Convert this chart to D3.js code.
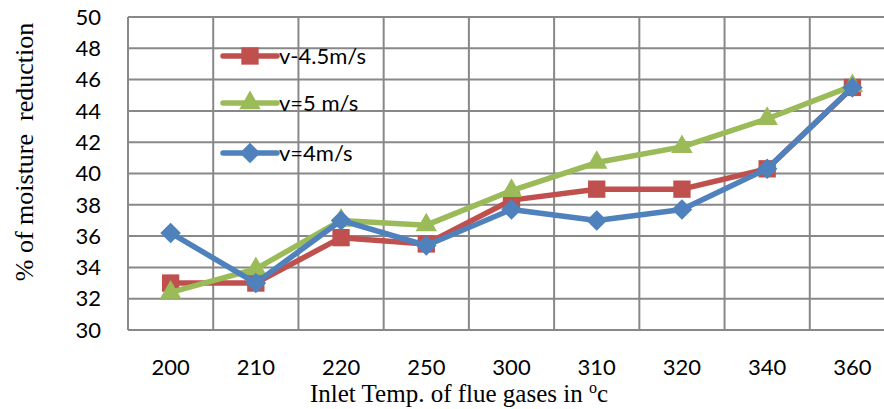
<!DOCTYPE html>
<html>
<head>
<meta charset="utf-8">
<script src="https://d3js.org/d3.v7.min.js"></script>
<style>
  body { margin: 0; background: #fff; }
  .tick-label { font-family: Lato, "Open Sans", sans-serif; font-size: 22px; fill: #000; }
  .legend-label { font-family: Lato, "Open Sans", sans-serif; font-size: 22px; fill: #000; }
  .title { font-family: "Liberation Serif", "Times New Roman", serif; font-size: 26px; fill: #000; }
</style>
</head>
<body>
<script>
// categories on x axis (inlet temperature)
var temps = ["200", "210", "220", "250", "300", "310", "320", "340", "360"];
// % moisture reduction per velocity
var v45 = [33, 33, 35.9, 35.5, 38.3, 39, 39, 40.3, 45.5];
var v5 = [32.4, 33.9, 37, 36.7, 38.9, 40.7, 41.7, 43.5, 45.6];
var v4 = [36.2, 33, 37, 35.4, 37.7, 37, 37.7, 40.3, 45.5];
var yTicks = [30, 32, 34, 36, 38, 40, 42, 44, 46, 48, 50];

var series = [
  { name: "v-4.5m/s", values: v45, color: "#C0504D", marker: "square" },
  { name: "v=5 m/s", values: v5, color: "#9BBB59", marker: "triangle" },
  { name: "v=4m/s", values: v4, color: "#4F81BD", marker: "diamond" }
];

// plot area (right edge runs past the window, as in the original crop)
var w = 884, h = 409;
var padL = 128, padT = 17, padR = 895, padB = 330;

var svg = d3.select("body").append("svg")
  .attr("width", w).attr("height", h);

var x = d3.scaleBand().domain(temps).range([padL, padR]);
var y = d3.scaleLinear().domain([30, 50]).range([padB, padT]);

// grid
var grid = svg.append("g").attr("stroke", "#888").attr("stroke-width", 2);
grid.selectAll(".hl").data(yTicks).enter().append("line")
  .attr("x1", padL).attr("x2", w)
  .attr("y1", function(d) { return y(d); })
  .attr("y2", function(d) { return y(d); });
grid.selectAll(".vl").data(temps).enter().append("line")
  .attr("x1", function(d) { return x(d); })
  .attr("x2", function(d) { return x(d); })
  .attr("y1", padT).attr("y2", padB);

// y tick labels
svg.selectAll(".yl").data(yTicks).enter().append("text")
  .attr("class", "tick-label")
  .attr("x", 101)
  .attr("y", function(d) { return y(d); })
  .attr("dy", "0.35em")
  .attr("text-anchor", "end")
  .text(function(d) { return d; });

// x tick labels
svg.selectAll(".xl").data(temps).enter().append("text")
  .attr("class", "tick-label")
  .attr("x", function(d) { return x(d) + x.bandwidth() / 2; })
  .attr("y", 375)
  .attr("text-anchor", "middle")
  .text(function(d) { return d; });

// axis titles
var xt = svg.append("text").attr("class", "title")
  .attr("x", 459).attr("y", 402).attr("text-anchor", "middle")
  .style("font-size", "25px");
xt.append("tspan").text("Inlet Temp. of flue gases in ");
xt.append("tspan").attr("font-size", "16px").attr("dy", "-9").text("o");
xt.append("tspan").attr("dy", "9").text("c");

svg.append("text").attr("class", "title")
  .attr("transform", "translate(33,152) rotate(-90)")
  .attr("text-anchor", "middle")
  .style("white-space", "pre")
  .text("% of moisture  reduction");

function symbolFor(m) {
  if (m === "square") return d3.symbol().type(d3.symbolSquare).size(300)();
  if (m === "triangle") return d3.symbol().type(d3.symbolTriangle).size(200)();
  return d3.symbol().type(d3.symbolDiamond2).size(270)();
}

var line = d3.line()
  .x(function(d, i) { return x(temps[i]) + x.bandwidth() / 2; })
  .y(function(d) { return y(d); });

series.forEach(function(s) {
  var g = svg.append("g");
  g.append("path")
    .attr("d", line(s.values))
    .attr("fill", "none")
    .attr("stroke", s.color)
    .attr("stroke-width", 5.5)
    .attr("stroke-linejoin", "round");
  g.selectAll("path.mk").data(s.values).enter().append("path")
    .attr("class", "mk")
    .attr("d", symbolFor(s.marker))
    .attr("fill", s.color)
    .attr("transform", function(d, i) {
      return "translate(" + (x(temps[i]) + x.bandwidth() / 2) + "," + y(d) + ")";
    });
});

// legend
var legY = [56, 103, 153];
series.forEach(function(s, i) {
  var g = svg.append("g").attr("transform", "translate(0," + legY[i] + ")");
  g.append("line").attr("x1", 223).attr("x2", 277)
    .attr("stroke", s.color).attr("stroke-width", 5.5).attr("stroke-linecap", "round");
  g.append("path").attr("d", symbolFor(s.marker)).attr("fill", s.color)
    .attr("transform", "translate(250,0)");
  g.append("text").attr("class", "legend-label")
    .attr("x", 279).attr("dy", "0.35em").text(s.name);
});
</script>
</body>
</html>
